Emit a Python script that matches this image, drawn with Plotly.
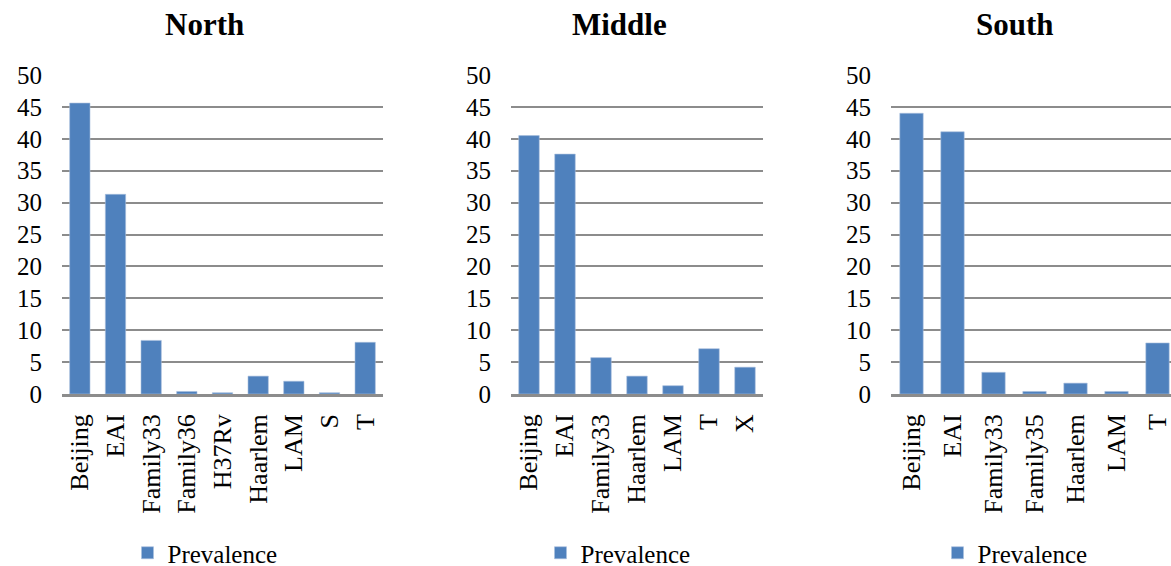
import plotly.graph_objects as go

# Lineage prevalence (%) by region
north_lineages = ["Beijing", "EAI", "Family33", "Family36", "H37Rv", "Haarlem", "LAM", "S", "T"]
north_prevalence = [45.6, 31.3, 8.4, 0.4, 0.2, 2.8, 2.0, 0.2, 8.1]

middle_lineages = ["Beijing", "EAI", "Family33", "Haarlem", "LAM", "T", "X"]
middle_prevalence = [40.5, 37.6, 5.7, 2.8, 1.3, 7.1, 4.2]

south_lineages = ["Beijing", "EAI", "Family33", "Family35", "Haarlem", "LAM", "T"]
south_prevalence = [44.0, 41.1, 3.4, 0.4, 1.7, 0.4, 8.0]

region_titles = ["North", "Middle", "South"]
y_ticks = list(range(0, 51, 5))

W, H = 1171, 566
BAR = "#4F81BD"
GRID = "#8C8C8C"
FONT = "Liberation Serif, Times New Roman, serif"


def px(x):
    return x / W


def py(y):
    return 1 - y / H


fig = go.Figure()

panels = [
    (north_lineages, north_prevalence, "x", "y", "legend", (62, 383), None),
    (middle_lineages, middle_prevalence, "x2", "y2", "legend2", (511, 763), None),
    (south_lineages, south_prevalence, "x3", "y3", "legend3", (891, 1171),
     [-0.5, -0.5 + 280 / 41]),
]

for cats, vals, xa, ya, lg, _, _ in panels:
    fig.add_trace(go.Bar(
        x=cats, y=vals, name="Prevalence", xaxis=xa, yaxis=ya, legend=lg,
        marker=dict(color=BAR, line=dict(color="#A9C0DE", width=0.6)),
        showlegend=True,
    ))

layout = dict(
    width=W, height=H,
    margin=dict(l=0, r=0, t=0, b=0, autoexpand=False),
    paper_bgcolor="white", plot_bgcolor="white",
    bargap=0.43,
    font=dict(family=FONT, size=25, color="black"),
)

ydom = [py(394), py(75)]
for i, (cats, vals, xa, ya, lg, (x0, x1), rng) in enumerate(panels):
    suffix = "" if i == 0 else str(i + 1)
    xaxis = dict(
        domain=[px(x0), px(x1)], anchor="y" + suffix,
        type="category", tickangle=-90, automargin=False,
        showline=True, linecolor=GRID, linewidth=2.5,
        showgrid=False, ticks="outside", ticklen=7, tickcolor="rgba(0,0,0,0)",
        tickfont=dict(family=FONT, size=26, color="black"),
        fixedrange=True,
    )
    if rng is not None:
        xaxis["range"] = rng
    layout["xaxis" + suffix] = xaxis
    layout["yaxis" + suffix] = dict(
        domain=ydom, anchor="x" + suffix, range=[0, 50], automargin=False,
        tickvals=y_ticks, showgrid=True, gridcolor=GRID, gridwidth=1.6,
        zeroline=False, showline=False,
        ticks="outside", ticklen=14, tickcolor="rgba(0,0,0,0)",
        tickfont=dict(family=FONT, size=25, color="black"),
        fixedrange=True,
    )

legend_centers = [205, 618, 1015]
for i, cx in enumerate(legend_centers):
    key = "legend" if i == 0 else "legend" + str(i + 1)
    layout[key] = dict(
        x=px(cx), y=py(553), xanchor="center", yanchor="middle",
        orientation="h", bgcolor="rgba(0,0,0,0)",
        font=dict(family=FONT, size=25, color="black"),
        itemwidth=30,
    )

title_centers = [204, 619, 1015]
layout["annotations"] = [
    dict(text="<b>%s</b>" % t, x=px(cx), y=py(25), xref="paper", yref="paper",
         xanchor="center", yanchor="middle", showarrow=False,
         font=dict(family=FONT, size=31, color="black"))
    for t, cx in zip(region_titles, title_centers)
]

fig.update_layout(**layout)
fig.write_html("out.html")
